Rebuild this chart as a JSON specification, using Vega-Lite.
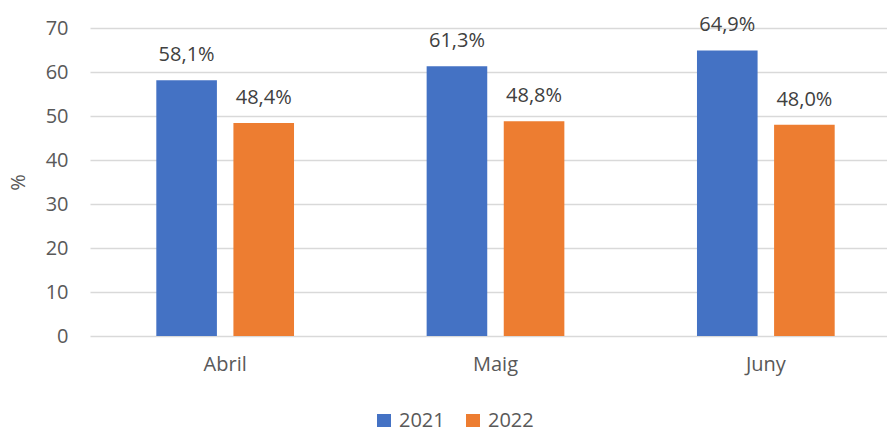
{
  "$schema": "https://vega.github.io/schema/vega-lite/v6.json",
  "autosize": "none",
  "width": 797,
  "height": 308,
  "padding": {"left": 90, "top": 28, "right": 0, "bottom": 91},
  "background": "white",
  "config": {
    "view": {"stroke": null},
    "font": "Open Sans",
    "axis": {"labelFont": "Open Sans", "titleFont": "Open Sans"},
    "legend": {"labelFont": "Open Sans"}
  },
  "data": {
    "values": [
      {"mes": "Abril", "any": "2021", "valor": 58.1},
      {"mes": "Abril", "any": "2022", "valor": 48.4},
      {"mes": "Maig", "any": "2021", "valor": 61.3},
      {"mes": "Maig", "any": "2022", "valor": 48.8},
      {"mes": "Juny", "any": "2021", "valor": 64.9},
      {"mes": "Juny", "any": "2022", "valor": 48.0}
    ]
  },
  "transform": [
    {"calculate": "replace(format(datum.valor, '.1f'), '.', ',') + '%'", "as": "etiqueta"}
  ],
  "encoding": {
    "x": {
      "field": "mes",
      "type": "nominal",
      "sort": ["Abril", "Maig", "Juny"],
      "scale": {"range": [0, 811], "paddingInner": 0, "paddingOuter": 0},
      "axis": {
        "title": null,
        "domain": false,
        "ticks": false,
        "labelAngle": 0,
        "labelFontSize": 20,
        "labelColor": "#595959",
        "labelPadding": 18
      }
    },
    "xOffset": {
      "field": "any",
      "type": "nominal",
      "scale": {"paddingInner": 0.214, "paddingOuter": 0.86}
    },
    "y": {
      "field": "valor",
      "type": "quantitative",
      "scale": {"domain": [0, 70], "nice": false},
      "axis": {
        "title": "%",
        "titleFontSize": 20,
        "titleFontWeight": "normal",
        "titleColor": "#595959",
        "titlePadding": 17,
        "values": [0, 10, 20, 30, 40, 50, 60, 70],
        "domain": false,
        "ticks": false,
        "labelFontSize": 20,
        "labelColor": "#595959",
        "labelPadding": 22,
        "gridColor": "#d9d9d9",
        "gridWidth": 1.3
      }
    }
  },
  "layer": [
    {
      "mark": {"type": "bar"},
      "encoding": {
        "color": {
          "field": "any",
          "type": "nominal",
          "scale": {"domain": ["2021", "2022"], "range": ["#4472C4", "#ED7D31"]},
          "legend": {
            "title": null,
            "orient": "none",
            "direction": "horizontal",
            "legendX": 284,
            "legendY": 383,
            "symbolType": "square",
            "symbolSize": 196,
            "symbolStrokeWidth": 0,
            "labelFontSize": 20,
            "labelColor": "#595959",
            "labelOffset": 5,
            "columnPadding": 18
          }
        }
      }
    },
    {
      "mark": {"type": "text", "baseline": "alphabetic", "dy": -19, "fontSize": 20, "color": "#404040"},
      "encoding": {
        "text": {"field": "etiqueta", "type": "nominal"}
      }
    }
  ]
}
